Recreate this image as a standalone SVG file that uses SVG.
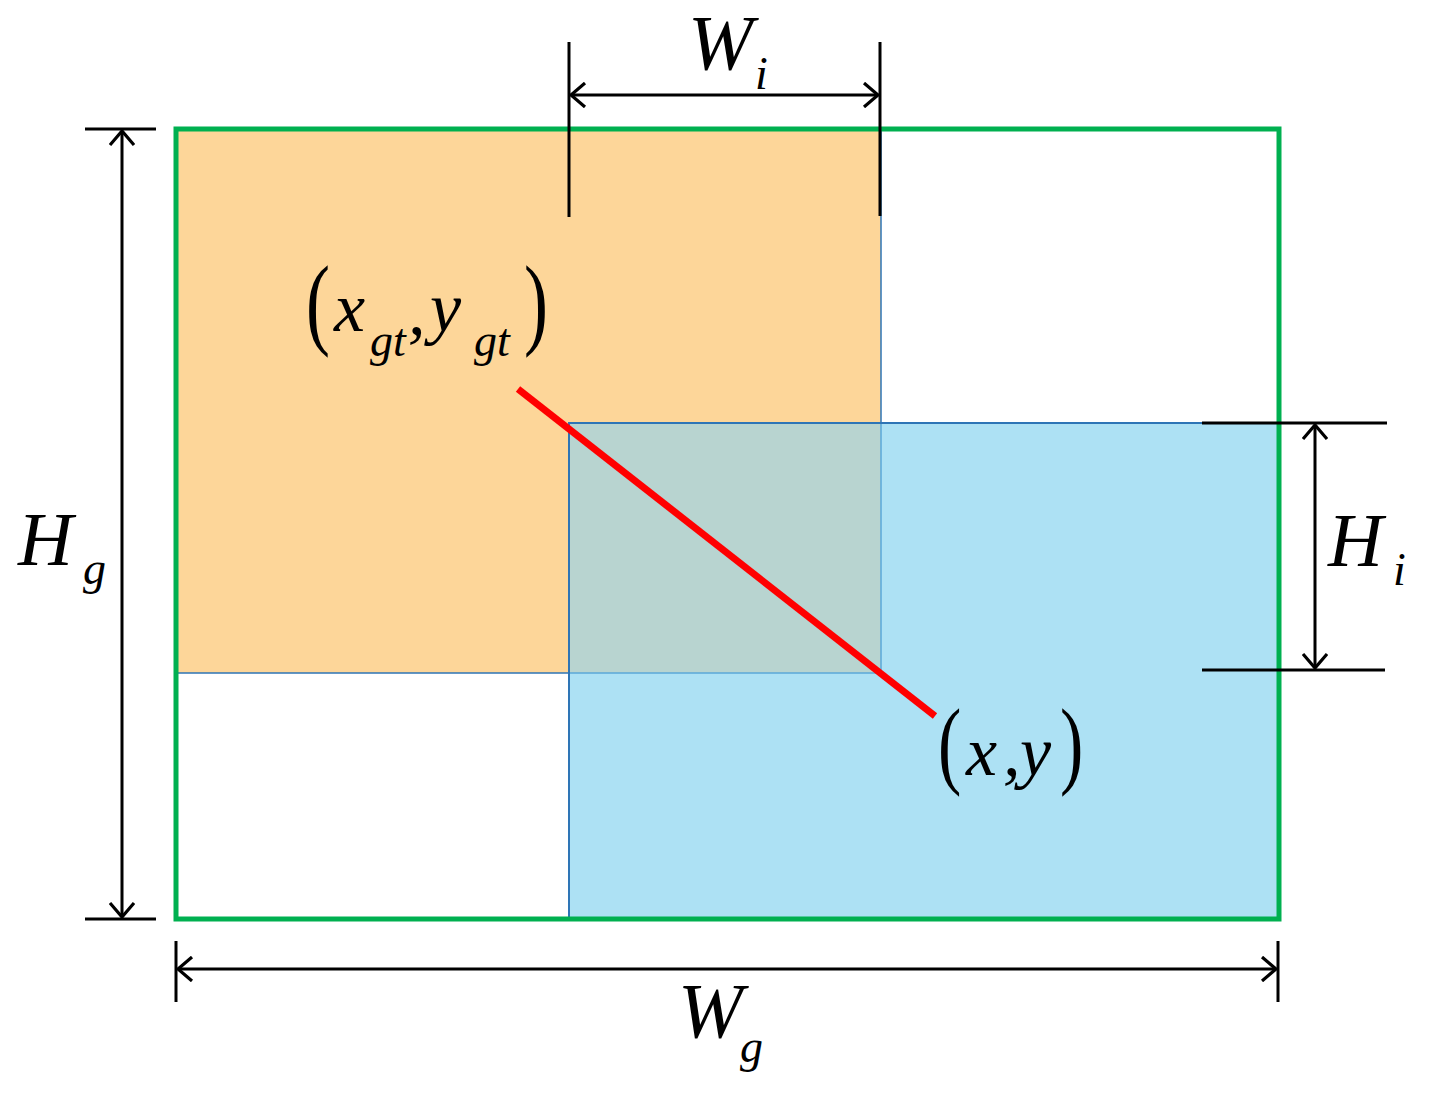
<svg xmlns="http://www.w3.org/2000/svg" width="1436" height="1096" viewBox="0 0 1436 1096">
<style>
.dim{stroke:#000;stroke-width:3;fill:none}
.t{font-family:"Liberation Serif","Times New Roman",serif;font-style:italic;fill:#000}
.p{font-family:"Liberation Serif","Times New Roman",serif;fill:#000}
</style>
<defs>
<marker id="ah" viewBox="0 0 24 26" refX="21" refY="13" markerWidth="24" markerHeight="26" markerUnits="userSpaceOnUse" orient="auto-start-reverse">
<path d="M7,1 L21,13 L7,25" fill="none" stroke="#000" stroke-width="3.2"/>
</marker>
</defs>
<rect width="1436" height="1096" fill="#fff"/>
<g id="orange-box">
<rect x="176" y="129" width="705" height="544" fill="#fdd699" stroke="#2e75b6" stroke-width="1.5"/>
</g>
<g id="blue-box">
<rect x="569" y="423" width="709" height="495" fill="#ade1f4" stroke="#2e75b6" stroke-width="2"/>
<rect x="570" y="424" width="311" height="249" fill="#b8d4d0"/>
<path d="M881,424 V673 H570" fill="none" stroke="#5ba8d8" stroke-width="1.5"/>
</g>
<g id="gt-box">
<rect x="176" y="129" width="1103" height="790" fill="none" stroke="#00b050" stroke-width="5"/>
</g>
<g id="connectors">
<line x1="518" y1="389" x2="935" y2="716" stroke="#ff0000" stroke-width="7"/>
<line class="dim" x1="85" y1="129" x2="156" y2="129"/>
<line class="dim" x1="85" y1="919" x2="156" y2="919"/>
<line class="dim" x1="122" y1="131" x2="122" y2="917" marker-start="url(#ah)" marker-end="url(#ah)"/>
<line class="dim" x1="569" y1="42" x2="569" y2="217"/>
<line class="dim" x1="880" y1="42" x2="880" y2="216"/>
<line class="dim" x1="571" y1="95" x2="878" y2="95" marker-start="url(#ah)" marker-end="url(#ah)"/>
<line class="dim" x1="1202" y1="423" x2="1387" y2="423"/>
<line class="dim" x1="1202" y1="670" x2="1385" y2="670"/>
<line class="dim" x1="1315" y1="425" x2="1315" y2="668" marker-start="url(#ah)" marker-end="url(#ah)"/>
<line class="dim" x1="176" y1="941" x2="176" y2="1002"/>
<line class="dim" x1="1278" y1="941" x2="1278" y2="1002"/>
<line class="dim" x1="178" y1="969" x2="1276" y2="969" marker-start="url(#ah)" marker-end="url(#ah)"/>
</g>
<g id="label-wi">
<text class="t" x="688" y="69" font-size="78">W</text>
<text class="t" x="755" y="89" font-size="46">i</text>
</g>
<g id="label-hg">
<text class="t" x="18" y="565" font-size="76">H</text>
<text class="t" x="83" y="584" font-size="46">g</text>
</g>
<g id="label-hi">
<text class="t" x="1328" y="566" font-size="76">H</text>
<text class="t" x="1393" y="585" font-size="46">i</text>
</g>
<g id="label-wg">
<text class="t" x="678" y="1037" font-size="78">W</text>
<text class="t" x="740" y="1062" font-size="46">g</text>
</g>
<g id="label-xgt">
<text class="p" font-size="72" transform="translate(306,336) scale(1,1.4)">(</text>
<text class="t" x="334" y="331" font-size="70">x</text>
<text class="t" x="370" y="356" font-size="46">gt</text>
<text class="t" x="408" y="334" font-size="70">,</text>
<text class="t" x="430" y="331" font-size="70">y</text>
<text class="t" x="474" y="356" font-size="46">gt</text>
<text class="p" font-size="72" transform="translate(524,336) scale(1,1.4)">)</text>
</g>
<g id="label-xy">
<text class="p" font-size="70" transform="translate(938,776) scale(1,1.4)">(</text>
<text class="t" x="966" y="775" font-size="70">x</text>
<text class="t" x="1003" y="775" font-size="70">,</text>
<text class="t" x="1020" y="775" font-size="70">y</text>
<text class="p" font-size="70" transform="translate(1060,776) scale(1,1.4)">)</text>
</g>
</svg>
